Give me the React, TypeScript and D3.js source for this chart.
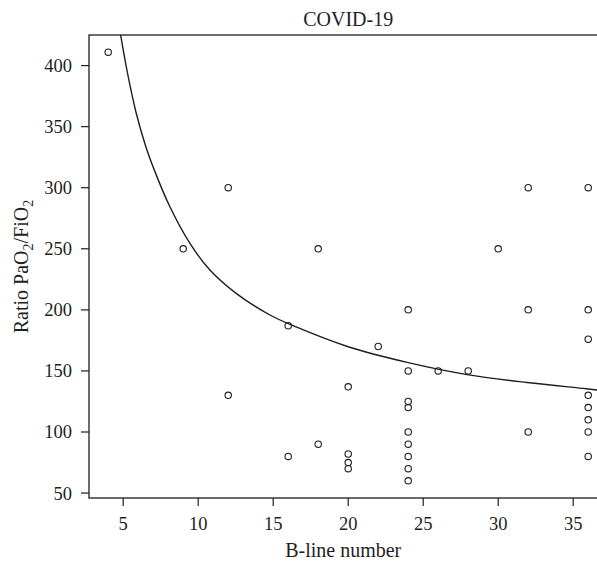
import React from "react";
import * as d3 from "d3";

const W = 597;
const H = 563;

// Scatter data: B-line number vs PaO2/FiO2
const bLines = [4, 9, 12, 12, 16, 16, 18, 18, 20, 20, 20, 20, 22, 24, 24, 24, 24, 24, 24, 24, 24, 24, 26, 28, 30, 32, 32, 32, 36, 36, 36, 36, 36, 36, 36, 36];
const ratios = [411, 250, 300, 130, 187, 80, 250, 90, 137, 82, 75, 70, 170, 200, 150, 125, 120, 100, 90, 80, 70, 60, 150, 150, 250, 300, 200, 100, 300, 200, 176, 130, 120, 110, 100, 80];

// Fitted curve
const fitX = [4.82, 5.3, 5.87, 6.5, 7.09, 8.09, 9.42, 10.75, 12.53, 14.75, 16.53, 19.95, 23.93, 27.93, 31.93, 35.87, 37.28];
const fitY = [425.7, 393, 361, 334, 314, 285, 255, 233, 213.5, 196, 186, 170, 157, 147, 140.5, 135.4, 133.5];

const xTicks = [5, 10, 15, 20, 25, 30, 35];
const yTicks = [50, 100, 150, 200, 250, 300, 350, 400];

const title = "COVID-19";
const xTitle = "B-line number";

export default function App() {
  const left = 89;
  const top = 35;
  const bottom = 498;
  const x = d3.scaleLinear().domain([2.72, 37.28]).range([left, left + 34.56 * 15]);
  const y = d3.scaleLinear().domain([45.96, 425.04]).range([bottom, top]);
  const right = x(37.28);
  const line = d3
    .line<number>()
    .x((_, i) => x(fitX[i]))
    .y((d) => y(d))
    .curve(d3.curveCatmullRom.alpha(0.5));
  const ink = "#1e1e1e";
  const font = "'Liberation Serif', 'Times New Roman', serif";
  return (
    <svg
      width={W}
      height={H}
      style={{ position: "absolute", left: 0, top: 0, background: "#fff" }}
      fontFamily={font}
    >
      <defs>
        <clipPath id="plotclip">
          <rect x={left} y={top} width={right - left} height={bottom - top} />
        </clipPath>
      </defs>
      <rect x={0} y={0} width={W} height={H} fill="#fff" />
      <rect x={left} y={top} width={right - left} height={bottom - top} fill="none" stroke={ink} strokeWidth={1.3} />
      {xTicks.map((t) => (
        <g key={"x" + t}>
          <line x1={x(t)} x2={x(t)} y1={bottom} y2={bottom + 8} stroke={ink} strokeWidth={1.2} />
          <text x={x(t)} y={530} textAnchor="middle" fontSize={18.5} fill={ink}>
            {t}
          </text>
        </g>
      ))}
      {yTicks.map((t) => (
        <g key={"y" + t}>
          <line x1={left - 8} x2={left} y1={y(t)} y2={y(t)} stroke={ink} strokeWidth={1.2} />
          <text x={72} y={y(t)} dy="0.35em" textAnchor="end" fontSize={18.5} fill={ink}>
            {t}
          </text>
        </g>
      ))}
      <g clipPath="url(#plotclip)">
        <path d={line(fitY) || ""} fill="none" stroke={ink} strokeWidth={1.4} />
      </g>
      {bLines.map((b, i) => (
        <circle key={"p" + i} cx={x(b)} cy={y(ratios[i])} r={3.2} fill="none" stroke={ink} strokeWidth={1.1} />
      ))}
      <text x={(left + right) / 2} y={25.5} textAnchor="middle" fontSize={20} fill={ink}>
        {title}
      </text>
      <text x={(left + right) / 2 - 5} y={557} textAnchor="middle" fontSize={20} fill={ink}>
        {xTitle}
      </text>
      <text
        transform={`translate(28, ${(top + bottom) / 2}) rotate(-90)`}
        textAnchor="middle"
        fontSize={20}
        fill={ink}
      >
        Ratio PaO
        <tspan fontSize={14} dy={5}>2</tspan>
        <tspan dy={-5}>/FiO</tspan>
        <tspan fontSize={14} dy={5}>2</tspan>
      </text>
    </svg>
  );
}
